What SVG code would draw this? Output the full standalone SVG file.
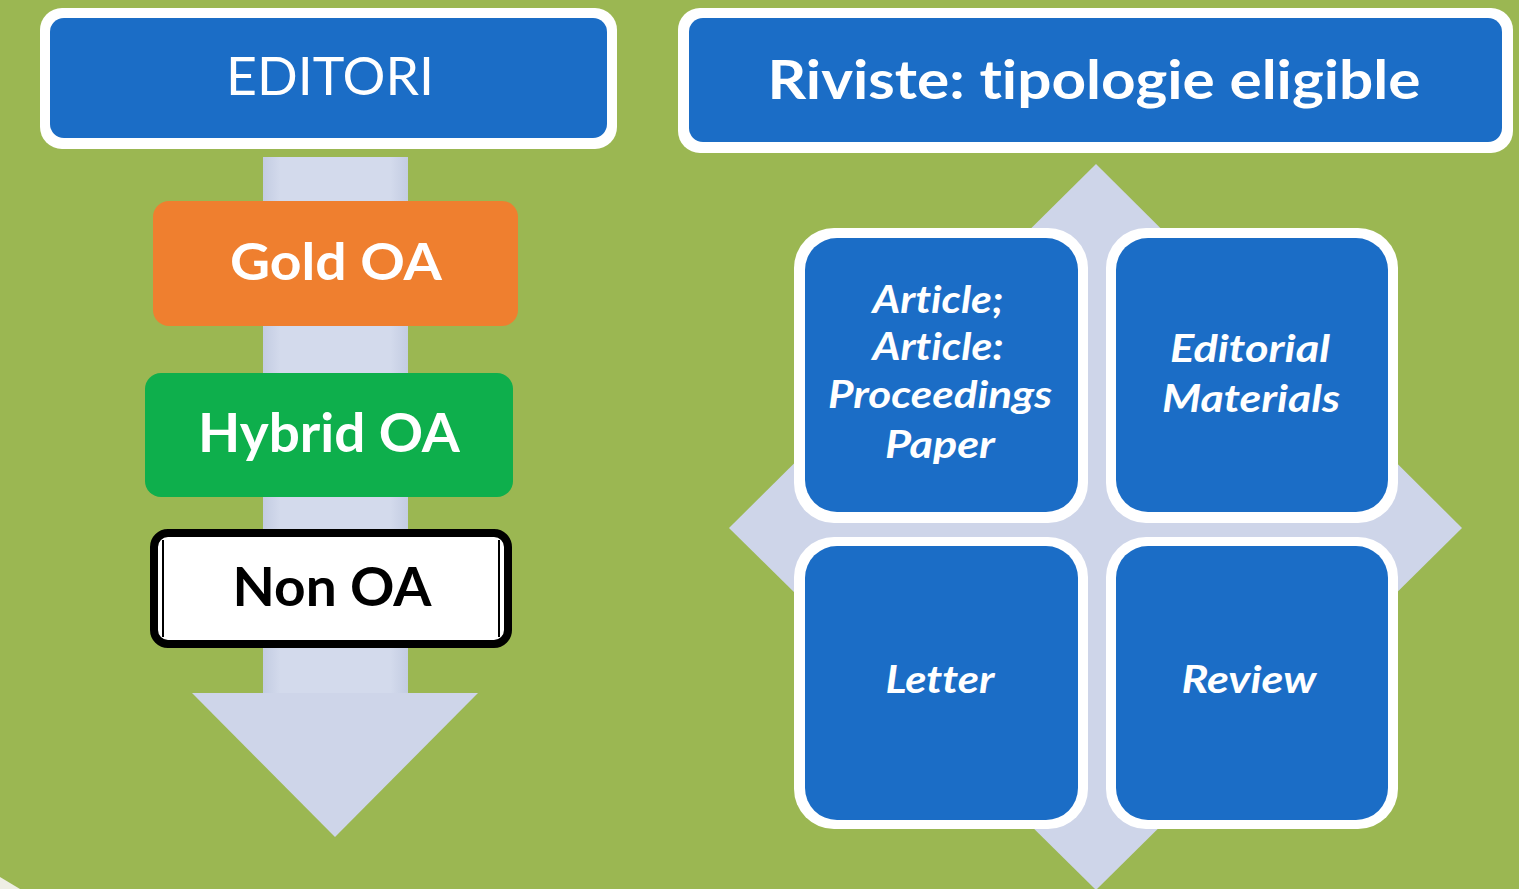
<svg xmlns="http://www.w3.org/2000/svg" width="1519" height="889" viewBox="0 0 1519 889">
<defs>
<style>
.bg{fill:#9BB752}
.gray{fill:#CED5E9}
.white{fill:#FFFFFF}
.blue{fill:#1B6DC6}
text{font-variant-ligatures:none;font-feature-settings:"liga" 0}
.t{font-family:Lato,"Open Sans","Liberation Sans",sans-serif;text-anchor:middle;fill:#FFFFFF}
.m{font-family:Lato,"Open Sans","Liberation Sans",sans-serif;text-anchor:middle;fill:#FFFFFF;font-style:italic;font-weight:bold;font-size:38px}
</style>
<linearGradient id="shaft" x1="0" y1="0" x2="1" y2="0">
<stop offset="0" stop-color="#C3CCE2"/>
<stop offset="0.12" stop-color="#D3DAEC"/>
<stop offset="0.88" stop-color="#D3DAEC"/>
<stop offset="1" stop-color="#C3CCE2"/>
</linearGradient>
</defs>
<rect class="bg" x="0" y="0" width="1519" height="889"/>
<polygon points="0,877 20,889 0,889" fill="#EEEEE4"/>

<g id="connectors">
<rect x="263" y="157" width="145" height="537" fill="url(#shaft)"/>
<polygon class="gray" points="192,693 478,693 335,837"/>
<polygon class="gray" points="1096,164 1462,528 1096,890 729,528"/>
</g>

<g id="editori">
<rect class="white" x="40" y="8" width="577" height="141" rx="22"/>
<rect class="blue" x="50" y="18" width="557" height="120" rx="14"/>
<text class="t" x="330" y="95" font-size="52" textLength="208" lengthAdjust="spacingAndGlyphs">EDITORI</text>
</g>

<g id="riviste">
<rect class="white" x="678" y="8" width="835" height="145" rx="22"/>
<rect class="blue" x="689" y="18" width="813" height="124" rx="14"/>
<text class="t" x="1094" y="99" font-size="54" font-weight="bold" textLength="653" lengthAdjust="spacingAndGlyphs">Riviste: tipologie eligible</text>
</g>

<g id="gold">
<rect x="153" y="201" width="365" height="125" rx="16" fill="#EF7F2F"/>
<text class="t" x="336" y="280" font-size="51" font-weight="bold" textLength="212" lengthAdjust="spacingAndGlyphs">Gold OA</text>
</g>

<g id="hybrid">
<rect x="145" y="373" width="368" height="124" rx="16" fill="#0EAF4C"/>
<text class="t" x="329" y="452" font-size="53" font-weight="bold" textLength="262" lengthAdjust="spacingAndGlyphs">Hybrid OA</text>
</g>

<g id="nonoa">
<rect x="154" y="533" width="354" height="111" rx="14" fill="#FFFFFF" stroke="#000000" stroke-width="8"/>
<line x1="163" y1="540" x2="163" y2="637" stroke="#000000" stroke-width="2"/>
<line x1="499" y1="540" x2="499" y2="637" stroke="#000000" stroke-width="2"/>
<text class="t" x="332" y="606" font-size="53" font-weight="bold" style="fill:#000000" textLength="199" lengthAdjust="spacingAndGlyphs">Non OA</text>
</g>

<g id="article">
<rect class="white" x="794" y="228" width="294" height="295" rx="40"/>
<rect class="blue" x="805" y="238" width="273" height="274" rx="32"/>
<text class="m" x="938" y="313" textLength="131" lengthAdjust="spacingAndGlyphs">Article;</text>
<text class="m" x="938" y="360" textLength="131" lengthAdjust="spacingAndGlyphs">Article:</text>
<text class="m" x="940" y="408" textLength="224" lengthAdjust="spacingAndGlyphs">Proceedings</text>
<text class="m" x="940" y="458" textLength="110" lengthAdjust="spacingAndGlyphs">Paper</text>
</g>

<g id="editorial">
<rect class="white" x="1106" y="228" width="292" height="295" rx="40"/>
<rect class="blue" x="1116" y="238" width="272" height="274" rx="32"/>
<text class="m" x="1250" y="362" textLength="160" lengthAdjust="spacingAndGlyphs">Editorial</text>
<text class="m" x="1251" y="412" textLength="178" lengthAdjust="spacingAndGlyphs">Materials</text>
</g>

<g id="letter">
<rect class="white" x="794" y="537" width="294" height="292" rx="40"/>
<rect class="blue" x="805" y="546" width="273" height="274" rx="32"/>
<text class="m" x="940" y="693" textLength="109" lengthAdjust="spacingAndGlyphs">Letter</text>
</g>

<g id="review">
<rect class="white" x="1106" y="537" width="292" height="292" rx="40"/>
<rect class="blue" x="1116" y="546" width="272" height="274" rx="32"/>
<text class="m" x="1249" y="693" textLength="135" lengthAdjust="spacingAndGlyphs">Review</text>
</g>
</svg>
